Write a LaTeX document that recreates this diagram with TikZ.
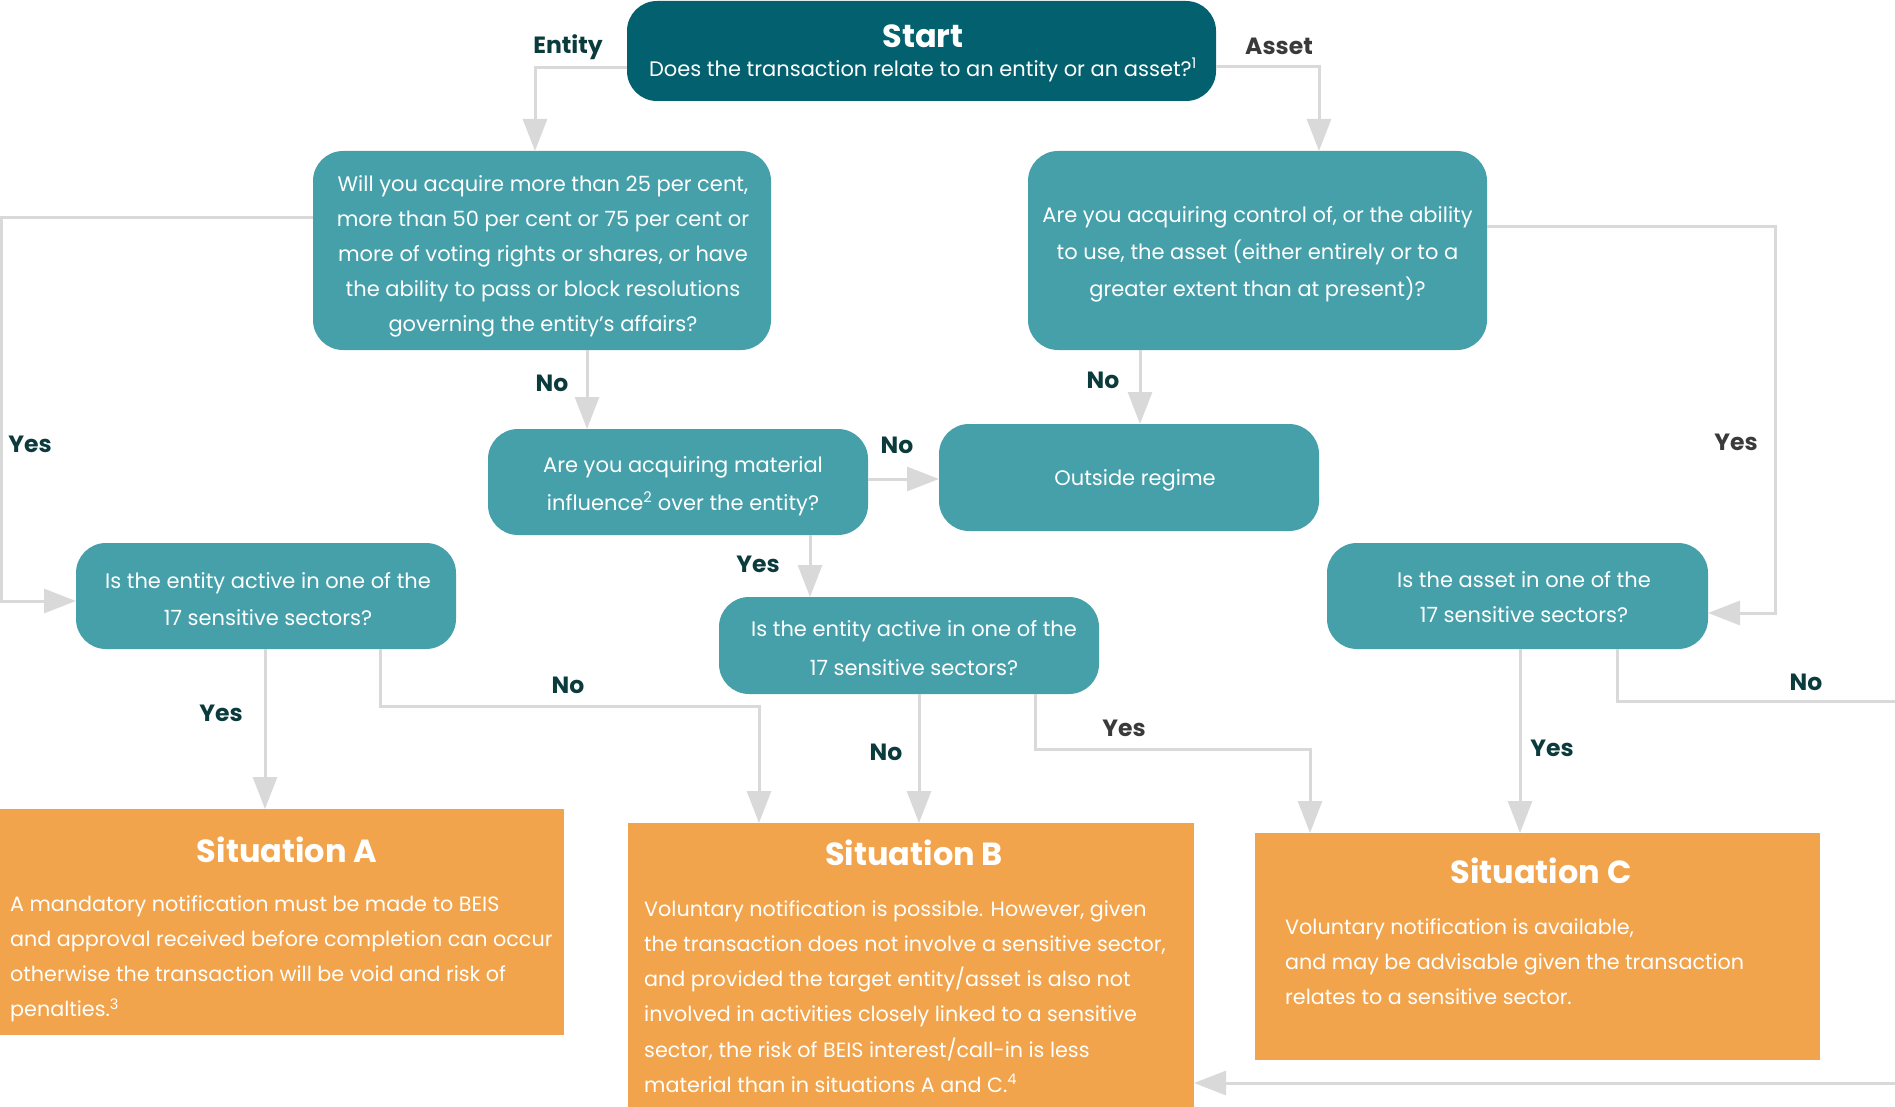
\documentclass[tikz,border=0pt]{standalone}
\usepackage{fontspec}
\setmainfont{Poppins}
\usetikzlibrary{arrows.meta,calc}
\definecolor{darkteal}{HTML}{03606E}
\definecolor{boxteal}{HTML}{45A0AA}
\definecolor{orangebox}{HTML}{F2A44C}
\definecolor{linegray}{HTML}{D9D9D9}
\definecolor{labeldark}{HTML}{0B3B3C}
\definecolor{labelgray}{HTML}{3A3A3A}
\newcommand\myqfont{\fontsize{21}{35}\selectfont}
\newcommand\mybodyfont{\fontsize{20.7}{35.3}\selectfont}
\newcommand\mytitlefont{\fontsize{32}{34}\selectfont\bfseries}
\newcommand\mylblfont{\fontsize{23.5}{26}\selectfont\bfseries}
\tikzset{
  qbox/.style={fill=boxteal, rounded corners=30, inner sep=0, outer sep=0},
  qtext/.style={text=white, align=center, font=\myqfont, inner sep=0},
  startbox/.style={fill=darkteal, rounded corners=30, inner sep=0, outer sep=0},
  sitbox/.style={fill=orangebox, inner sep=0, outer sep=0, anchor=north west},
  sittitle/.style={text=white, font=\mytitlefont, inner sep=0},
  sitbody/.style={text=white, font=\mybodyfont, align=left, inner sep=0, anchor=north west},
  conn/.style={draw=linegray, line width=3, -{Triangle[length=32,width=24]}},
  lbl/.style={font=\mylblfont, text=labeldark, inner sep=0},
  lblg/.style={lbl, text=labelgray},
}
\begin{document}
\begin{tikzpicture}[x=1pt,y=-1pt]
\useasboundingbox (0,0) rectangle (1895,1107);
\clip (0,0) rectangle (1895,1107);
% question boxes
\node[startbox, minimum width=589, minimum height=100] (Start) at (921.5,51) {};
\node[qtext, font=\fontsize{32}{34}\selectfont\bfseries] (StartT) at (923,36) {Start};
\node[qtext] (StartS) at (923,70) {Does the transaction relate to an entity or an asset?\textsuperscript{1}};
\node[qbox, minimum width=458, minimum height=199] (Q1) at (542,250.5) {};
\node[qtext] (Q1t) at (543,256)
  {Will you acquire more than 25 per cent,\\ more than 50 per cent or 75 per cent or\\ more of voting rights or shares, or have\\ the ability to pass or block resolutions\\ governing the entity’s affairs?};
\node[qbox, minimum width=459, minimum height=199] (Q2) at (1257.5,250.5) {};
\node[qtext, font=\fontsize{21}{37}\selectfont] (Q2t) at (1257.5,254)
  {Are you acquiring control of, or the ability\\ to use, the asset (either entirely or to a\\ greater extent than at present)?};
\node[qbox, minimum width=380, minimum height=106] (Q3) at (678,482) {};
\node[qtext, font=\fontsize{21}{37.5}\selectfont] (Q3t) at (683,486)
  {Are you acquiring material\\ influence\textsuperscript{2} over the entity?};
\node[qbox, minimum width=380, minimum height=107] (Out) at (1129,477.5) {};
\node[qtext] (Outt) at (1135,480) {Outside regime};
\node[qbox, minimum width=380, minimum height=106] (E1) at (266,596) {};
\node[qtext, font=\fontsize{21}{37.5}\selectfont] (E1t) at (268,599)
  {Is the entity active in one of the\\ 17 sensitive sectors?};
\node[qbox, minimum width=380, minimum height=97] (Q4) at (909,645.5) {};
\node[qtext, font=\fontsize{21}{38.7}\selectfont] (Q4t) at (914,648)
  {Is the entity active in one of the\\ 17 sensitive sectors?};
\node[qbox, minimum width=381, minimum height=106] (Q5) at (1517.5,596) {};
\node[qtext, font=\fontsize{21}{35}\selectfont] (Q5t) at (1524,597)
  {Is the asset in one of the\\ 17 sensitive sectors?};
% situation boxes
\node[sitbox, minimum width=564, minimum height=226] (SA) at (0,809) {};
\node[sitbox, minimum width=566, minimum height=284] (SB) at (628,823) {};
\node[sitbox, minimum width=565, minimum height=227] (SC) at (1255,833) {};
\node[sittitle] (SAt) at (287,850) {Situation A};
\node[sittitle] (SBt) at (914,853) {Situation B};
\node[sittitle] (SCt) at (1541,871) {Situation C};
\node[sitbody] (SAb) at (10,895)
  {A mandatory notification must be made to BEIS\\ and approval received before completion can occur\\ otherwise the transaction will be void and risk of\\ penalties.\textsuperscript{3}};
\node[sitbody] (SBb) at (644,900)
  {Voluntary notification is possible. However, given\\ the transaction does not involve a sensitive sector,\\ and provided the target entity/asset is also not\\ involved in activities closely linked to a sensitive\\ sector, the risk of BEIS interest/call-in is less\\ material than in situations A and C.\textsuperscript{4}};
\node[sitbody] (SCb) at (1285,918)
  {Voluntary notification is available,\\ and may be advisable given the transaction\\ relates to a sensitive sector.};
% connectors
\draw[conn] (Start.west |- 0,68) -| (Q1.north -| 535,0);
\draw[conn] (Start.east |- 0,67) -| (Q2.north -| 1319,0);
\draw[conn] (Q1.west |- 0,218) -| (1.5,601) -- (E1.west |- 0,601);
\draw[conn] (Q1.south -| 587,0) -- (Q3.north -| 587,0);
\draw[conn] (Q3.east |- 0,479) -- (Out.west |- 0,479);
\draw[conn] (Q2.south -| 1140,0) -- (Out.north -| 1140,0);
\draw[conn] (Q2.east |- 0,227) -| (1775,613) -- (Q5.east |- 0,613);
\draw[conn] (Q3.south -| 810,0) -- (Q4.north -| 810,0);
\draw[conn] (E1.south -| 265,0) -- (SA.north -| 265,0);
\draw[conn] (E1.south -| 380,0) |- (759,706) -- (SB.north -| 759,0);
\draw[conn] (Q4.south -| 919,0) -- (SB.north -| 919,0);
\draw[conn] (Q4.south -| 1035,0) |- (1310,749) -- (SC.north -| 1310,0);
\draw[conn] (Q5.south -| 1520,0) -- (SC.north -| 1520,0);
\draw[conn] (Q5.south -| 1617,0) |- (1905,701) -- (1905,1083) -- (SB.east |- 0,1083);
% labels
\node[lbl] (lEntity) at (568,47) {Entity};
\node[lblg] (lAsset) at (1279,46) {Asset};
\node[lbl] (l1) at (30,444) {Yes};
\node[lbl] (l2) at (552,383) {No};
\node[lbl] (l3) at (897,445) {No};
\node[lbl] (l4) at (1103,380) {No};
\node[lblg] (l5) at (1736,442) {Yes};
\node[lbl] (l6) at (758,564) {Yes};
\node[lbl] (l7) at (221,713) {Yes};
\node[lbl] (l8) at (568,685) {No};
\node[lbl] (l9) at (886,752) {No};
\node[lblg] (l10) at (1124,728) {Yes};
\node[lbl] (l11) at (1552,748) {Yes};
\node[lbl] (l12) at (1806,682) {No};
\end{tikzpicture}
\end{document}
